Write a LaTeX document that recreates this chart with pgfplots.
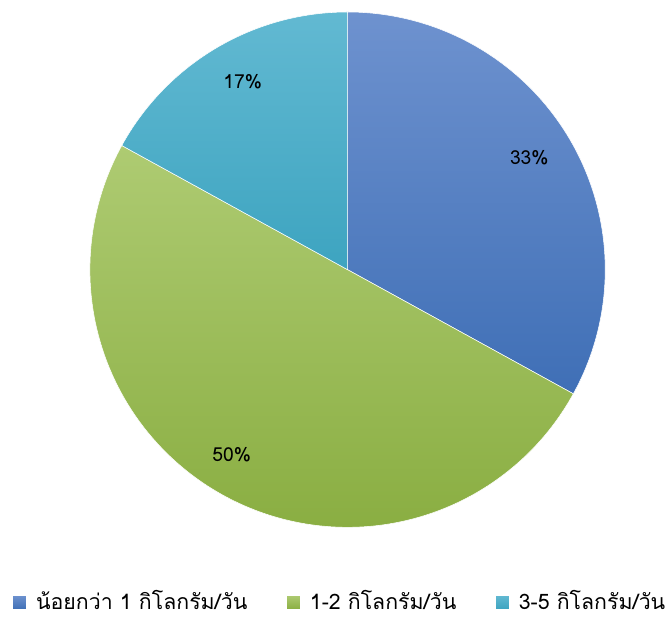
\documentclass[border=0pt]{standalone}
\usepackage{pgfplots}
\pgfplotsset{compat=1.18}
\usepackage{fontspec}
\newfontfamily\thaifont[Script=Thai]{Loma}
\definecolor{bluetop}{HTML}{6E92CF}
\definecolor{bluebot}{HTML}{3F6FB6}
\definecolor{greentop}{HTML}{AECB72}
\definecolor{greenbot}{HTML}{8AAE42}
\definecolor{tealtop}{HTML}{62B9D2}
\definecolor{tealbot}{HTML}{3DA4C0}
\definecolor{blueleg}{HTML}{4F81BD}
\definecolor{greenleg}{HTML}{9BBB59}
\definecolor{tealleg}{HTML}{4BACC6}
\begin{document}
\begin{tikzpicture}
% shares in percent
\pgfmathsetmacro{\va}{33}
\pgfmathsetmacro{\vb}{50}
\pgfmathsetmacro{\vc}{17}
\pgfmathsetmacro{\aA}{90}
\pgfmathsetmacro{\aB}{90-3.6*\va}
\pgfmathsetmacro{\aC}{\aB-3.6*\vb}
\pgfmathsetmacro{\aD}{\aC-3.6*\vc}
\begin{axis}[
  scale only axis, width=501pt, height=464.25pt,
  xmin=0, xmax=668, ymin=0, ymax=619,
  hide axis, clip=false,
  legend columns=3,
  legend style={at={(axis cs:12,17)}, anchor=west, draw=none, fill=none,
    font=\thaifont\fontsize{16}{18}\selectfont,
    /tikz/every even column/.append style={column sep=27pt},
    /tikz/every odd column/.append style={column sep=5pt},
    inner sep=0pt},
  legend image code/.code={\fill[#1] (0pt,-6pt) rectangle (10.5pt,4.5pt);},
]
\addplot[top color=bluetop, bottom color=bluebot, draw=white, line width=0.4pt, domain=\aB:\aA, samples=120, variable=\t]
  ({348+258*cos(\t)},{349+258*sin(\t)}) -- (axis cs:348,349) -- cycle;
\addplot[top color=greentop, bottom color=greenbot, draw=white, line width=0.4pt, domain=\aC:\aB, samples=160, variable=\t]
  ({348+258*cos(\t)},{349+258*sin(\t)}) -- (axis cs:348,349) -- cycle;
\addplot[top color=tealtop, bottom color=tealbot, draw=white, line width=0.4pt, domain=\aD:\aC, samples=80, variable=\t]
  ({348+258*cos(\t)},{349+258*sin(\t)}) -- (axis cs:348,349) -- cycle;
\addlegendimage{fill=blueleg}
\addlegendentry{น้อยกว่า 1 กิโลกรัม/วัน}
\addlegendimage{fill=greenleg}
\addlegendentry{1-2 กิโลกรัม/วัน}
\addlegendimage{fill=tealleg}
\addlegendentry{3-5 กิโลกรัม/วัน}
\node[font=\thaifont\fontsize{14.5}{16}\selectfont] at (axis cs:530,461) {33\%};
\node[font=\thaifont\fontsize{14.5}{16}\selectfont] at (axis cs:232,164) {50\%};
\node[font=\thaifont\fontsize{14.5}{16}\selectfont] at (axis cs:243,537) {17\%};
\path (rel axis cs:0,0) rectangle (rel axis cs:1,1);
\end{axis}
\end{tikzpicture}
\end{document}
